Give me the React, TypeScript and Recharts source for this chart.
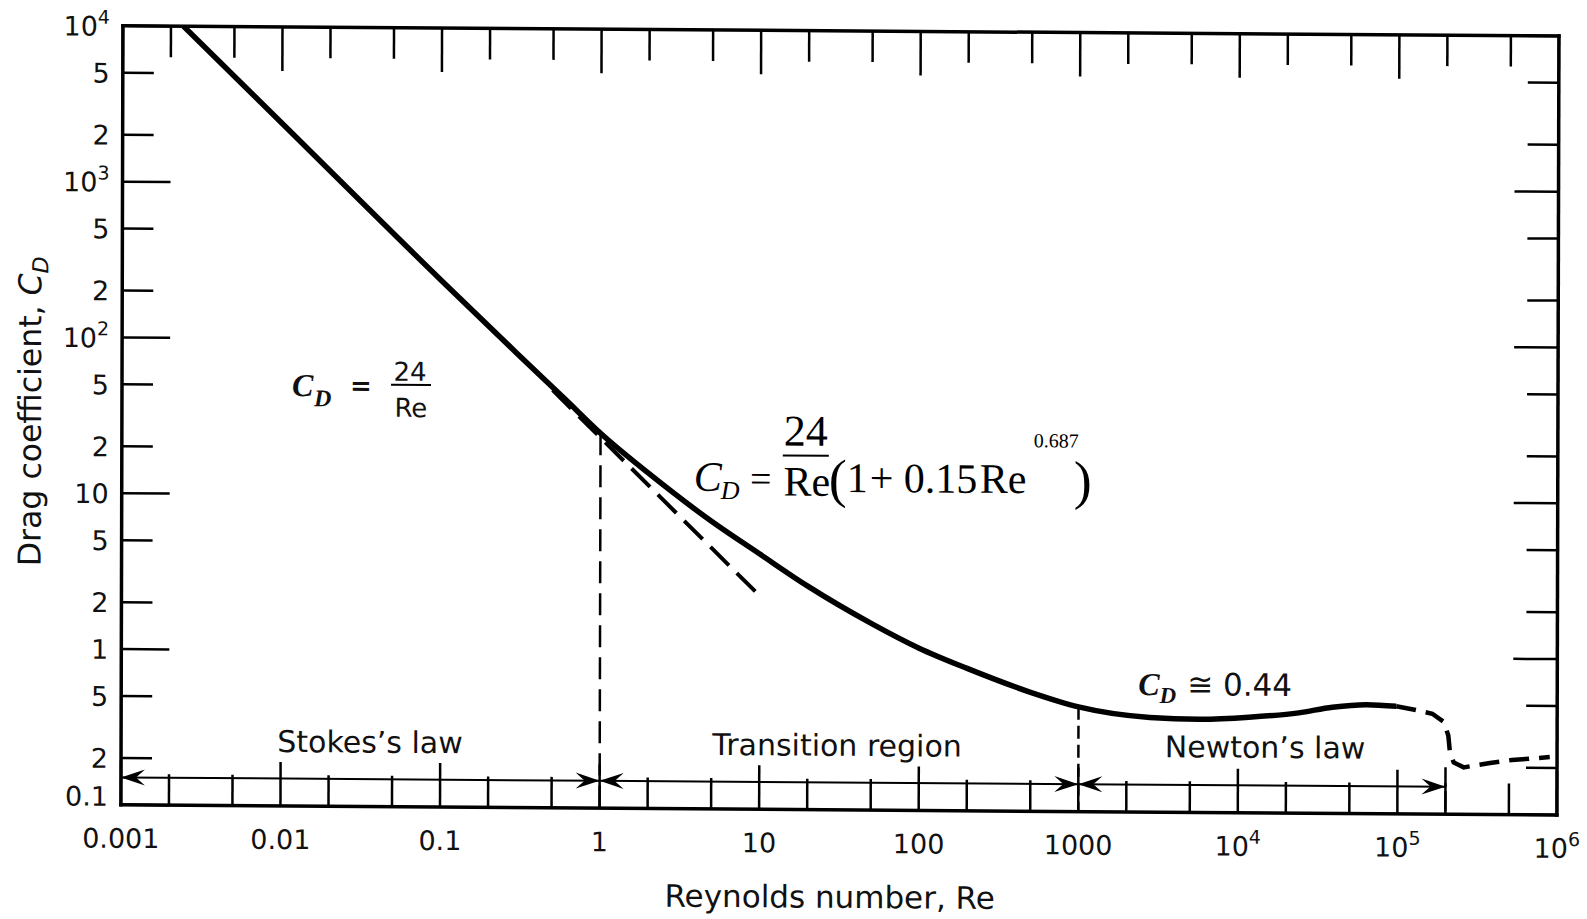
import React from "react";
import { ComposedChart, Line, XAxis, YAxis, ReferenceLine } from "recharts";

// drag curve (Re, C_D)
const curveRe = [0.0024, 0.01, 0.1, 0.3, 0.6, 1, 2, 5, 10, 20, 50, 100, 200, 500, 1000, 2800, 5700, 11700, 24000, 39000, 64000, 98000];
const curveCd = [10000, 2400, 240, 82, 42, 25.5, 14.2, 7.0, 4.35, 2.72, 1.58, 1.1, 0.82, 0.58, 0.47, 0.405, 0.396, 0.41, 0.44, 0.48, 0.5, 0.49];

// 24/Re carried on past Re = 1 (dashed)
const stokesExtRe = [0.5, 10.2];
const stokesExtCd = [48, 2.3];

// drag crisis (dashed)
const crisisRe = [98000, 130000, 165000, 195000, 208000, 213000, 225000, 260000, 380000, 520000, 900000];
const crisisCd = [0.49, 0.465, 0.44, 0.39, 0.32, 0.25, 0.215, 0.2, 0.214, 0.224, 0.235];

// region borders: vertical dashed dividers from the curve down to the axis
const borderRe = [1, 1000, 200000];
const borderCd = [25.5, 0.47, 0.2];
const borderDash = ["22 10", "13 6", "20 4"];

// double arrows under the regions
const regionFrom = [0.001, 1, 1000];
const regionTo = [1, 1000, 200000];
const arrowCd = 0.15;

const xTicks = [
  0.001, 0.002, 0.005, 0.01, 0.02, 0.05, 0.1, 0.2, 0.5, 1, 2, 5, 10, 20, 50, 100, 200, 500,
  1000, 2000, 5000, 10000, 20000, 50000, 100000, 200000, 500000, 1000000,
];
const xDecades = [0.001, 0.01, 0.1, 1, 10, 100, 1000, 10000, 100000, 1000000];
const xDecadeBase = ["0.001", "0.01", "0.1", "1", "10", "100", "1000", "10", "10", "10"];
const xDecadeSup = ["", "", "", "", "", "", "", "4", "5", "6"];

const yTicks = [0.1, 0.2, 0.5, 1, 2, 5, 10, 20, 50, 100, 200, 500, 1000, 2000, 5000, 10000];
const yLabelBase = ["0.1", "2", "5", "1", "2", "5", "10", "2", "5", "10", "2", "5", "10", "2", "5", "10"];
const yLabelSup = ["", "", "", "", "", "", "", "", "", "2", "", "", "3", "", "", "4"];

const SANS = "'DejaVu Sans', sans-serif";
const SERIF = "'Liberation Serif', 'Times New Roman', serif";
const INK = "#111";

const toRows = (xs: number[], ys: number[]) => xs.map((re, i) => ({ re, cd: ys[i] }));
const curveData = toRows(curveRe, curveCd);
const stokesExtData = toRows(stokesExtRe, stokesExtCd);
const crisisData = toRows(crisisRe, crisisCd);

const isDecade = (v: number) => Math.abs(Math.log10(v) - Math.round(Math.log10(v))) < 1e-9;

function BottomTick(props: any) {
  const { x, y, payload } = props;
  const v = payload.value;
  const i = xDecades.indexOf(v);
  return (
    <g>
      <line x1={x} x2={x} y1={y} y2={y - (isDecade(v) ? 44 : 31)} stroke="#000" strokeWidth={2.5} />
      {i >= 0 && (
        <text x={x} y={y + 43} textAnchor="middle" fontFamily={SANS} fontSize={27} fill={INK}>
          {xDecadeBase[i]}
          {xDecadeSup[i] && <tspan dy={-12} fontSize={19}>{xDecadeSup[i]}</tspan>}
        </text>
      )}
    </g>
  );
}

function TopTick(props: any) {
  const { x, y, payload } = props;
  return <line x1={x} x2={x} y1={y} y2={y + (isDecade(payload.value) ? 44 : 31)} stroke="#000" strokeWidth={2.5} />;
}

function LeftTick(props: any) {
  const { x, y, payload } = props;
  const v = payload.value;
  const i = yTicks.indexOf(v);
  return (
    <g>
      <line x1={x} x2={x + (isDecade(v) ? 48 : 31)} y1={y} y2={y} stroke="#000" strokeWidth={2.5} />
      <text x={x - 13} y={v === 0.1 ? y + 1 : y + 10} textAnchor="end" fontFamily={SANS} fontSize={27} fill={INK}>
        {yLabelBase[i]}
        {yLabelSup[i] && <tspan dy={-12} fontSize={19}>{yLabelSup[i]}</tspan>}
      </text>
    </g>
  );
}

function RightTick(props: any) {
  const { x, y, payload } = props;
  return <line x1={x} x2={x - (isDecade(payload.value) ? 44 : 31)} y1={y} y2={y} stroke="#000" strokeWidth={2.5} />;
}

// line with an arrowhead at each end
function ArrowSpan(props: any) {
  const a = Math.min(props.x1, props.x2);
  const b = Math.max(props.x1, props.x2);
  const y = props.y1;
  return (
    <g>
      <line x1={a} x2={b} y1={y} y2={y} stroke="#000" strokeWidth={2} />
      <path d={`M${a},${y} L${a + 24},${y - 8} L${a + 15},${y} L${a + 24},${y + 8} Z`} fill="#000" />
      <path d={`M${b},${y} L${b - 24},${y - 8} L${b - 15},${y} L${b - 24},${y + 8} Z`} fill="#000" />
    </g>
  );
}

const frame = { stroke: "#000", strokeWidth: 3.5, strokeLinecap: "square" as const };

export default function App() {
  return (
    <div style={{ position: "absolute", left: 0, top: 0, width: 1587, height: 919, overflow: "hidden", background: "#fff" }}>
      {/* the scanned figure sits a little askew */}
      <div
        style={{
          position: "absolute",
          left: 0,
          top: 0,
          width: 1587,
          height: 919,
          transform: "matrix(1, 0.007, -0.0026, 1, 0, 0)",
          transformOrigin: "0 0",
        }}
      >
        <ComposedChart width={1587} height={919} margin={{ top: 24, right: 27, bottom: 0, left: 0 }}>
          <XAxis
            xAxisId="b"
            dataKey="re"
            type="number"
            scale="log"
            domain={[0.001, 1000000]}
            allowDataOverflow
            ticks={xTicks}
            interval={0}
            height={115}
            tickSize={0}
            tickMargin={0}
            tickLine={false}
            axisLine={frame}
            tick={BottomTick}
          />
          <XAxis
            xAxisId="t"
            orientation="top"
            dataKey="re"
            type="number"
            scale="log"
            domain={[0.001, 1000000]}
            allowDataOverflow
            ticks={xTicks}
            interval={0}
            height={1}
            tickSize={0}
            tickMargin={0}
            tickLine={false}
            axisLine={frame}
            tick={TopTick}
          />
          <YAxis
            yAxisId="l"
            dataKey="cd"
            type="number"
            scale="log"
            domain={[0.1, 10000]}
            allowDataOverflow
            ticks={yTicks}
            interval={0}
            width={123}
            tickSize={0}
            tickMargin={0}
            tickLine={false}
            axisLine={frame}
            tick={LeftTick}
          />
          <YAxis
            yAxisId="r"
            orientation="right"
            dataKey="cd"
            type="number"
            scale="log"
            domain={[0.1, 10000]}
            allowDataOverflow
            ticks={yTicks}
            interval={0}
            width={1}
            tickSize={0}
            tickMargin={0}
            tickLine={false}
            axisLine={frame}
            tick={RightTick}
          />

          {borderRe.map((re, i) => (
            <ReferenceLine
              key={"b" + i}
              xAxisId="b"
              yAxisId="l"
              ifOverflow="visible"
              segment={[{ x: re, y: borderCd[i] }, { x: re, y: 0.1 }]}
              stroke="#000"
              strokeWidth={2.5}
              strokeDasharray={borderDash[i]}
            />
          ))}
          {regionFrom.map((from, i) => (
            <ReferenceLine
              key={"a" + i}
              xAxisId="b"
              yAxisId="l"
              ifOverflow="visible"
              segment={[{ x: from, y: arrowCd }, { x: regionTo[i], y: arrowCd }]}
              shape={(p: any) => <ArrowSpan {...p} />}
            />
          ))}

          <Line
            xAxisId="b"
            yAxisId="l"
            data={stokesExtData}
            dataKey="cd"
            type="linear"
            stroke="#000"
            strokeWidth={4}
            strokeDasharray="26 11"
            dot={false}
            activeDot={false}
            isAnimationActive={false}
          />
          <Line
            xAxisId="b"
            yAxisId="l"
            data={curveData}
            dataKey="cd"
            type="monotone"
            stroke="#000"
            strokeWidth={5.5}
            dot={false}
            activeDot={false}
            isAnimationActive={false}
          />
          <Line
            xAxisId="b"
            yAxisId="l"
            data={crisisData}
            dataKey="cd"
            type="linear"
            stroke="#000"
            strokeWidth={4.5}
            strokeDasharray="20 10"
            dot={false}
            activeDot={false}
            isAnimationActive={false}
          />
        </ComposedChart>

        <svg width={1587} height={919} style={{ position: "absolute", left: 0, top: 0, pointerEvents: "none" }}>
          <g fill={INK} fontFamily={SANS}>
            {/* axis titles */}
            <text transform="translate(42,411) rotate(-90)" textAnchor="middle" fontSize={31.5}>
              Drag coefficient,{" "}
              <tspan fontStyle="italic">C</tspan>
              <tspan fontStyle="italic" fontSize={22} dy={7}>D</tspan>
            </text>
            <text x={832} y={902} textAnchor="middle" fontSize={31}>Reynolds number, Re</text>

            {/* regions */}
            <text x={372} y={750} textAnchor="middle" fontSize={30}>Stokes’s law</text>
            <text x={839} y={750} textAnchor="middle" fontSize={30}>Transition region</text>
            <text x={1267} y={749} textAnchor="middle" fontSize={30}>Newton’s law</text>

            {/* C_D ≅ 0.44 */}
            <text x={1140} y={687} fontSize={30}>
              <tspan fontFamily={SERIF} fontStyle="italic" fontWeight="bold" fontSize={32}>C</tspan>
              <tspan fontFamily={SERIF} fontStyle="italic" fontWeight="bold" fontSize={23} dy={8}>D</tspan>
              <tspan dy={-8} dx={11} fontSize={31}>≅ 0.44</tspan>
            </text>

            {/* C_D = 24/Re */}
            <text x={293} y={394} fontFamily={SERIF} fontStyle="italic" fontWeight="bold" fontSize={32}>C</text>
            <text x={315} y={404} fontFamily={SERIF} fontStyle="italic" fontWeight="bold" fontSize={24}>D</text>
            <text x={362} y={392} textAnchor="middle" fontSize={26} fontWeight="bold">=</text>
            <text x={411} y={378} textAnchor="middle" fontSize={26}>24</text>
            <line x1={392} x2={432} y1={382} y2={382} stroke="#000" strokeWidth={2} />
            <text x={412} y={414} textAnchor="middle" fontSize={26}>Re</text>
          </g>

          {/* C_D = 24/Re (1 + 0.15 Re^0.687) */}
          <g fill="#000" fontFamily={SERIF} fontSize={42}>
            <text x={695} y={486} fontStyle="italic">C</text>
            <text x={722} y={494} fontStyle="italic" fontSize={26}>D</text>
            <text x={762} y={486} textAnchor="middle" fontSize={38}>=</text>
            <text x={807} y={440} textAnchor="middle" fontSize={44}>24</text>
            <line x1={784} x2={830} y1={450} y2={450} stroke="#000" strokeWidth={2} />
            <text x={808} y={490} textAnchor="middle">Re</text>
            <text x={830} y={491} fontSize={54}>(</text>
            <text x={848} y={486}>1</text>
            <text x={871} y={486}>+</text>
            <text x={905} y={486}>0.15</text>
            <text x={981} y={486}>Re</text>
            <text x={1035} y={440} fontSize={20}>0.687</text>
            <text x={1075} y={491} fontSize={54}>)</text>
          </g>
        </svg>
      </div>
    </div>
  );
}
